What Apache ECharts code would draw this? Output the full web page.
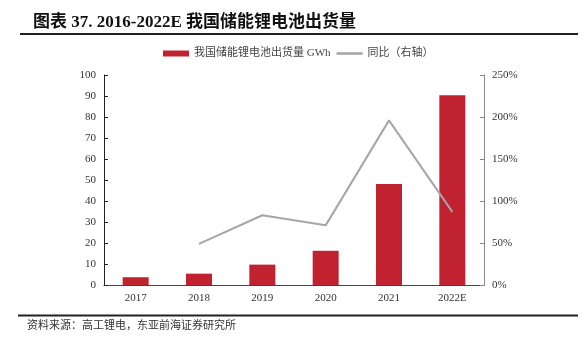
<!DOCTYPE html>
<html><head><meta charset="utf-8">
<script src="https://cdn.jsdelivr.net/npm/echarts@6/dist/echarts.min.js"></script>
<style>html,body{margin:0;padding:0;background:#fff}#c{width:584px;height:340px}</style>
</head><body><div id="c"></div>
<script>
const categories = ['2017','2018','2019','2020','2021','2022E'];
const shipments = [3.7, 5.4, 9.7, 16.3, 48.1, 90.3];
const yoy = [null, 49, 83, 71, 196, 87];
const leftTicks = [0,10,20,30,40,50,60,70,80,90,100];
const rightTicks = ['0%','50%','100%','150%','200%','250%'];

const FONT = '"Liberation Serif", "Noto Sans CJK SC", serif';
const chart = echarts.init(document.getElementById('c'));
chart.setOption({
  animation: false,
  title: {
    text: '图表 37. 2016-2022E 我国储能锂电池出货量',
    left: 28, top: 9,
    textStyle: {fontFamily: '"Liberation Serif", "Noto Sans CJK SC", serif', fontWeight: 'bold', fontSize: 17, color: '#111'}
  },
  legend: {
    top: 43, left: 158,
    itemGap: 6,
    textStyle: {fontFamily: FONT, fontSize: 11, color: '#444'},
    data: [
      {name: '我国储能锂电池出货量 GWh', icon: 'rect', itemStyle: {color: '#C0232F'}},
      {name: '同比（右轴）', icon: 'path://M0,0 L10,0 L10,1 L0,1 Z'}
    ],
    itemWidth: 26, itemHeight: 6
  },
  grid: {left: 104, right: 100, top: 75, bottom: 55},
  xAxis: {
    type: 'category', data: categories,
    axisLine: {lineStyle: {color: '#444', width: 1}},
    axisTick: {show: false},
    axisLabel: {fontFamily: FONT, fontSize: 11, color: '#333', margin: 8}
  },
  yAxis: [
    {type: 'value', min: 0, max: 100, interval: 10,
     axisLine: {show: true, lineStyle: {color: '#222', width: 1}},
     axisTick: {show: true, inside: true, length: 4, lineStyle: {color: '#222'}},
     splitLine: {show: false},
     axisLabel: {fontFamily: FONT, fontSize: 11, color: '#333', margin: 8}},
    {type: 'value', min: 0, max: 250, interval: 50, position: 'right',
     axisLine: {show: true, lineStyle: {color: '#888', width: 1}},
     axisTick: {show: true, inside: true, length: 4, lineStyle: {color: '#888'}},
     splitLine: {show: false},
     axisLabel: {fontFamily: FONT, fontSize: 11, color: '#333', margin: 8,
       formatter: v => rightTicks[v/50]}}
  ],
  series: [
    {name: '我国储能锂电池出货量 GWh', type: 'bar', data: shipments, barWidth: 26,
     itemStyle: {color: '#C0232F'}},
    {name: '同比（右轴）', type: 'line', yAxisIndex: 1, data: yoy, symbol: 'none',
     lineStyle: {color: '#A6A6A6', width: 2}, itemStyle: {color: '#A6A6A6'}}
  ],
  graphic: [
    {type: 'line', shape: {x1: 20, y1: 34, x2: 578, y2: 34}, style: {stroke: '#222', lineWidth: 2}},
    {type: 'line', shape: {x1: 18, y1: 315.5, x2: 578, y2: 315.5}, style: {stroke: '#222', lineWidth: 2}},
    {type: 'text', left: 27, top: 319, style: {text: '资料来源：高工锂电，东亚前海证券研究所', font: '11px "Noto Sans CJK SC", serif', fill: '#333'}}
  ]
});
</script></body></html>
